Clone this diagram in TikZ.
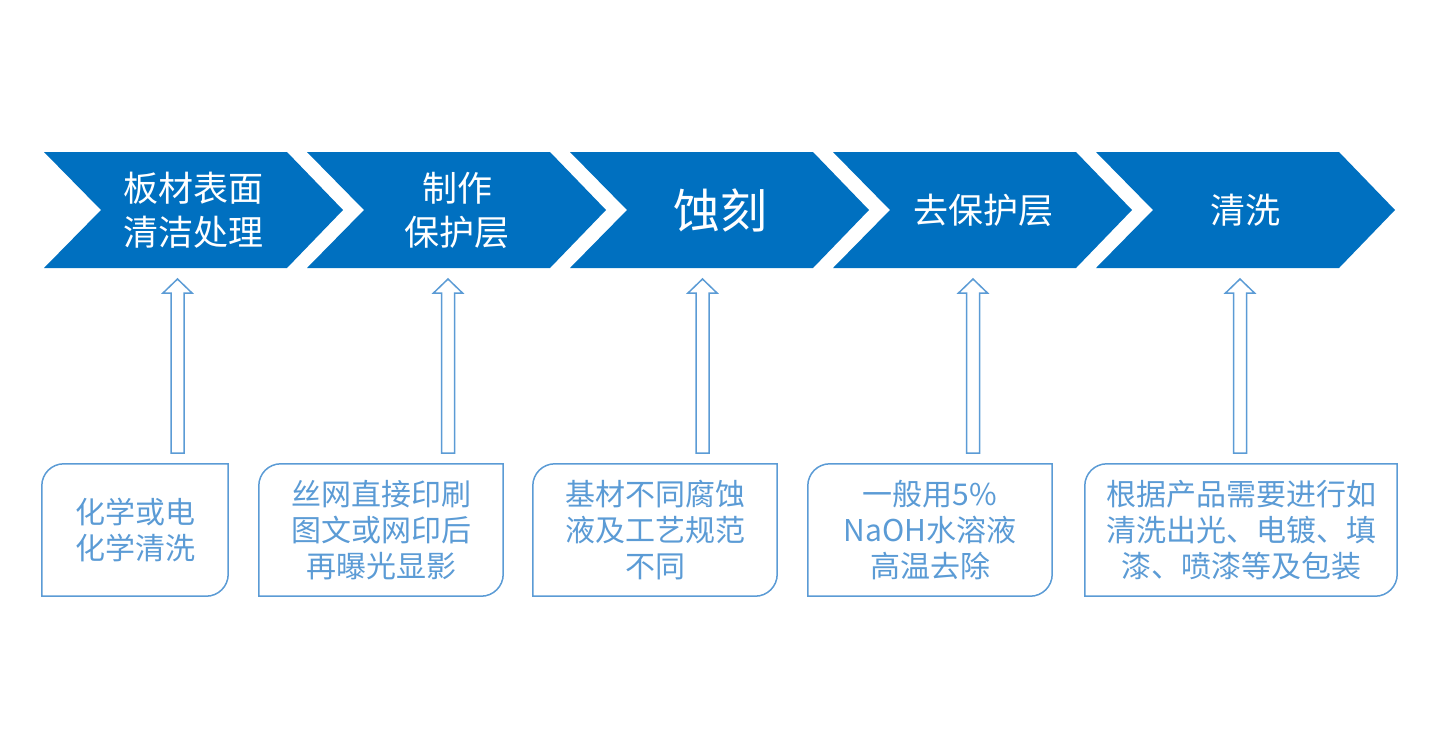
\documentclass[tikz,border=0pt]{standalone}
\usepackage{fontspec}
\setmainfont{Noto Sans CJK SC}
\usetikzlibrary{positioning}
\definecolor{stepblue}{RGB}{0,112,192}
\definecolor{noteblue}{RGB}{91,155,213}
\tikzset{
stepfill/.style={fill=stepblue},
steptext/.style={
  text=white,
  font=\fontsize{35}{44}\selectfont,
  align=center
  },
notetext/.style={
  text=noteblue,
  font=\fontsize{30}{36}\selectfont,
  align=center,
  minimum height=132pt,
  inner sep=0pt
  },
noteline/.style={draw=noteblue,line width=1.5pt}
}
\newcommand{\noteframe}[1]{%
  \draw[noteline] (#1.south west) -- ([yshift=-22pt]#1.north west)
    arc[start angle=180,end angle=90,radius=22pt] -- (#1.north east)
    -- ([yshift=22pt]#1.south east)
    arc[start angle=0,end angle=-90,radius=22pt] -- cycle;}

\begin{document}
\begin{tikzpicture}[x=1pt,y=-1pt]
\useasboundingbox (0,0) rectangle (1435,750);
% chevrons
\foreach \i in {0,...,4}{
  \pgfmathsetmacro{\l}{44+263*\i}
  \fill[stepfill] (\l,152) -- (\l+243,152) -- (\l+299,210) -- (\l+243,268)
    -- (\l,268) -- (\l+57,210) -- cycle;
}
\node[steptext] (step1) at (193,210) {板材表面\\清洁处理};
\node[steptext] (step2) at (457,210) {制作\\保护层};
\node[steptext,font=\fontsize{47}{50}\selectfont] (step3) at (720,210) {蚀刻};
\node[steptext] (step4) at (983,210) {去保护层};
\node[steptext] (step5) at (1245,210) {清洗};
% notes
\node[notetext,minimum width=186pt] (note1) at (135,530) {化学或电\\化学清洗};
\node[notetext,minimum width=244pt] (note2) at (381,530) {丝网直接印刷\\图文或网印后\\再曝光显影};
\node[notetext,minimum width=244pt] (note3) at (655,530) {基材不同腐蚀\\液及工艺规范\\不同};
\node[notetext,minimum width=244pt] (note4) at (930,530) {一般用5\%\\NaOH水溶液\\高温去除};
\node[notetext,minimum width=312pt] (note5) at (1241,530) {根据产品需要进行如\\清洗出光、电镀、填\\漆、喷漆等及包装};
\foreach \n in {1,...,5}
  \noteframe{note\n};
% hollow arrows
\foreach \x in {177.5,448,702.5,973,1240}
  \draw[noteline,line join=miter] (\x-6.5,453) -- (\x-6.5,293) -- (\x-14.5,293)
    -- (\x,279) -- (\x+14.5,293) -- (\x+6.5,293) -- (\x+6.5,453) -- cycle;
\end{tikzpicture}
\end{document}
